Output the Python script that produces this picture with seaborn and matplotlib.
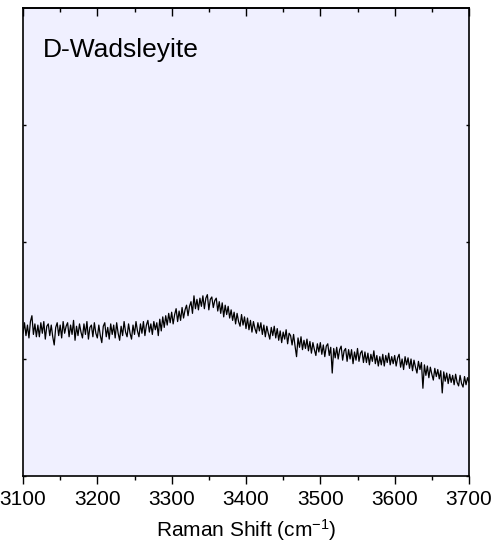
import numpy as np
import pandas as pd
import matplotlib
matplotlib.use("Agg")
import matplotlib.pyplot as plt
from matplotlib.ticker import MultipleLocator
import seaborn as sns

# Raman shift grid (cm^-1), step 2
shift = np.arange(3100, 3701, 2)

# Intensity (arbitrary units)
intensity = [
    1.22, 1.31, 1.20, 1.29, 1.18, 1.32, 1.37, 1.21, 1.30, 1.19,
    1.29, 1.19, 1.31, 1.22, 1.32, 1.17, 1.28, 1.30, 1.20, 1.29,
    1.19, 1.12, 1.27, 1.31, 1.20, 1.29, 1.18, 1.32, 1.22, 1.28,
    1.31, 1.19, 1.29, 1.21, 1.33, 1.16, 1.28, 1.20, 1.30, 1.23,
    1.18, 1.30, 1.21, 1.32, 1.17, 1.27, 1.29, 1.19, 1.31, 1.22,
    1.18, 1.29, 1.20, 1.14, 1.28, 1.31, 1.19, 1.27, 1.17, 1.30,
    1.21, 1.29, 1.18, 1.31, 1.22, 1.16, 1.28, 1.20, 1.32, 1.23,
    1.19, 1.30, 1.22, 1.17, 1.29, 1.21, 1.32, 1.24, 1.19, 1.30,
    1.22, 1.32, 1.20, 1.29, 1.33, 1.23, 1.30, 1.21, 1.32, 1.25,
    1.31, 1.20, 1.34, 1.24, 1.36, 1.27, 1.37, 1.29, 1.39, 1.31,
    1.40, 1.30, 1.38, 1.43, 1.32, 1.41, 1.33, 1.44, 1.35, 1.42,
    1.46, 1.37, 1.45, 1.49, 1.39, 1.54, 1.43, 1.51, 1.42, 1.52,
    1.45, 1.54, 1.43, 1.52, 1.55, 1.42, 1.51, 1.53, 1.44, 1.50,
    1.52, 1.41, 1.49, 1.39, 1.48, 1.36, 1.46, 1.38, 1.45, 1.35,
    1.42, 1.33, 1.40, 1.30, 1.39, 1.32, 1.28, 1.38, 1.29, 1.36,
    1.26, 1.35, 1.25, 1.33, 1.23, 1.32, 1.26, 1.22, 1.31, 1.24,
    1.31, 1.21, 1.29, 1.19, 1.28, 1.22, 1.17, 1.27, 1.20, 1.28,
    1.18, 1.26, 1.16, 1.24, 1.14, 1.23, 1.17, 1.25, 1.13, 1.22,
    1.20, 1.12, 1.21, 1.11, 1.02, 1.18, 1.10, 1.19, 1.08, 1.16,
    1.09, 1.17, 1.07, 1.15, 1.05, 1.14, 1.08, 1.03, 1.13, 1.06,
    1.14, 1.04, 1.12, 1.02, 1.11, 1.13, 1.03, 1.10, 0.88, 1.09,
    1.01, 1.10, 1.00, 1.08, 1.11, 0.99, 1.07, 1.09, 0.98, 1.08,
    1.00, 1.08, 0.96, 1.06, 0.99, 1.09, 0.98, 1.05, 1.07, 0.97,
    1.06, 0.97, 1.05, 0.95, 1.04, 0.98, 1.07, 0.96, 1.03, 0.94,
    1.02, 0.95, 1.04, 0.94, 1.03, 0.97, 1.05, 0.95, 1.02, 0.96,
    1.03, 0.94, 1.01, 1.04, 0.93, 1.00, 0.91, 1.02, 0.95, 1.01,
    0.92, 1.00, 0.90, 0.99, 0.93, 0.88, 0.98, 0.91, 0.97, 0.75,
    0.95, 0.86, 0.94, 0.84, 0.93, 0.87, 0.82, 0.92, 0.85, 0.91,
    0.83, 0.90, 0.71, 0.89, 0.81, 0.88, 0.79, 0.87, 0.80, 0.86,
    0.78, 0.87, 0.80, 0.77, 0.86, 0.79, 0.76, 0.85, 0.78, 0.84,
    0.80,
]

x_ticks = [3100, 3200, 3300, 3400, 3500, 3600, 3700]
y_ticks = [0, 1, 2, 3]
sample_label = "D-Wadsleyite"
x_label = "Raman Shift (cm$^{\\mathregular{-1}}$)"

sns.set_style("ticks")
plt.rcParams['font.family'] = ['Liberation Sans', 'DejaVu Sans']
plt.rcParams['mathtext.fontset'] = 'custom'
plt.rcParams['mathtext.rm'] = 'Liberation Sans'
plt.rcParams['mathtext.it'] = 'Liberation Sans'
plt.rcParams['axes.unicode_minus'] = False
for key in ['text.color', 'axes.labelcolor', 'xtick.color', 'ytick.color', 'axes.edgecolor']:
    plt.rcParams[key] = 'black'

df = pd.DataFrame({"shift": shift, "intensity": intensity})

fig = plt.figure(figsize=(4.92, 5.43), dpi=100)
ax = fig.add_axes([23/492, 67/543, 446/492, 468/543])
ax.set_facecolor("#F0F0FF")

sns.lineplot(data=df, x="shift", y="intensity", ax=ax, color="black",
             linewidth=0.9, estimator=None)

ax.set_xlim(3100, 3700)
ax.set_ylim(0, 4)
ax.set_xticks(x_ticks)
ax.xaxis.set_minor_locator(MultipleLocator(50))
ax.set_yticks(y_ticks)
ax.set_yticklabels([])
ax.set_ylabel("")
ax.set_xlabel(x_label, fontsize=15, labelpad=6)

for s in ax.spines.values():
    s.set_linewidth(1.2)
    s.set_color("black")
    s.set_visible(True)

ax.tick_params(axis='x', which='major', direction='out', length=6, width=1.0,
               labelsize=15, pad=4, bottom=True, top=False, colors='black')
ax.tick_params(axis='x', which='minor', direction='out', length=3, width=1.0,
               bottom=True, top=False)
ax.tick_params(axis='y', which='major', direction='in', length=2, width=1.0,
               left=True, right=True)

sec = ax.secondary_xaxis('top')
sec.set_xticks(x_ticks)
sec.xaxis.set_minor_locator(MultipleLocator(50))
sec.tick_params(axis='x', which='major', direction='in', length=6, width=1.0, labeltop=False)
sec.tick_params(axis='x', which='minor', direction='in', length=3, width=1.0)
sec.set_xticklabels([])
sec.spines['top'].set_linewidth(1.2)

ax.text(0.045, 0.895, sample_label, transform=ax.transAxes, fontsize=19,
        ha='left', va='baseline', color='black')

fig.savefig("out.png", dpi=100, facecolor="white")
